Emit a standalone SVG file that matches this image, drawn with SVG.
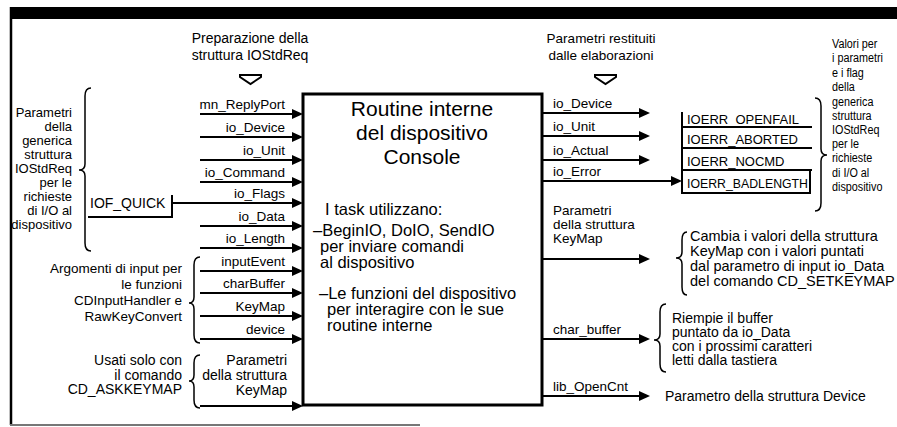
<svg xmlns="http://www.w3.org/2000/svg" width="897" height="427" viewBox="0 0 897 427">
<defs>
<style>
text{font-family:'Liberation Sans',Arial,Helvetica,sans-serif;fill:#000}
.f13{font-size:13px}.f135{font-size:13.5px}.f14{font-size:14px}.f145{font-size:14.5px}.f16{font-size:16.5px}.f21{font-size:21px}
.r{text-anchor:end}.m{text-anchor:middle}
.ln{stroke:#000;stroke-width:2;fill:none}
.ar{stroke:#000;stroke-width:2;fill:none;marker-end:url(#ah)}
.br{stroke:#000;stroke-width:1.5;fill:none}
.chev{stroke:#000;stroke-width:2;fill:#fff;stroke-linejoin:miter}
</style>
<marker id="ah" markerUnits="userSpaceOnUse" markerWidth="11" markerHeight="10" refX="6" refY="5" orient="auto"><path d="M0,0 L11,5 L0,10 Z" fill="#000"/></marker>
</defs>
<rect width="897" height="427" fill="#fff"/>
<g id="frame">
<rect x="10" y="7" width="887" height="12" fill="#000"/>
<line x1="11" y1="7" x2="11" y2="425" stroke="#000" stroke-width="2.5"/>
<line x1="10" y1="425" x2="420" y2="425" stroke="#777" stroke-width="2"/>
</g>
<g id="title-in">
<text class="f14 m" x="250" y="43">Preparazione della</text>
<text class="f14 m" x="250" y="60">struttura IOStdReq</text>
<polygon class="chev" points="240,75 261,75 261,77 250.5,84 240,77"/>
</g>
<g id="title-out">
<text class="f135 m" x="601" y="43">Parametri restituiti</text>
<text class="f135 m" x="601" y="60">dalle elaborazioni</text>
<polygon class="chev" points="595,75 616,75 616,77 605.5,84 595,77"/>
</g>
<g id="core">
<rect x="303" y="94" width="239" height="311" fill="#fff" stroke="#000" stroke-width="3"/>
<text class="f21 m" x="422" y="116">Routine interne</text>
<text class="f21 m" x="422" y="140">del dispositivo</text>
<text class="f21 m" x="422" y="164">Console</text>
<text class="f16" x="325" y="215">I task utilizzano:</text>
<text class="f16" x="313" y="236">–BeginIO, DoIO, SendIO</text>
<text class="f16" x="320" y="252">per inviare comandi</text>
<text class="f16" x="320" y="268">al dispositivo</text>
<text class="f16" x="319" y="299">–Le funzioni del dispositivo</text>
<text class="f16" x="327" y="315">per interagire con le sue</text>
<text class="f16" x="327" y="331">routine interne</text>
</g>
<g id="in-iostdreq-desc">
<path class="br" d="M91,88 Q85,88 85,96 L85,164 Q85,170 79,170 Q85,170 85,176 L85,243 Q85,251 91,251"/>
<text class="f13 r" x="72" y="117">Parametri</text>
<text class="f13 r" x="72" y="131">della</text>
<text class="f13 r" x="72" y="145">generica</text>
<text class="f13 r" x="72" y="159">struttura</text>
<text class="f13 r" x="72" y="173">IOStdReq</text>
<text class="f13 r" x="72" y="187">per le</text>
<text class="f13 r" x="72" y="201">richieste</text>
<text class="f13 r" x="72" y="215">di I/O al</text>
<text class="f13 r" x="72" y="229">dispositivo</text>
</g>
<g id="iof-quick">
<text class="f14" x="90" y="208">IOF_QUICK</text>
<path class="ln" d="M88,217 L172,217 L172,195"/>
</g>
<g id="in-args-desc">
<path class="br" d="M200,257 Q194,257 194,265 L194,297 Q194,303 189,303 Q194,303 194,309 L194,335 Q194,343 200,343"/>
<text class="f135 r" x="182" y="273">Argomenti di input per</text>
<text class="f135 r" x="182" y="289">le funzioni</text>
<text class="f135 r" x="182" y="305">CDInputHandler e</text>
<text class="f135 r" x="182" y="321">RawKeyConvert</text>
</g>
<g id="in-keymap-desc">
<path class="br" d="M200,355 Q194,355 194,363 L194,375 Q194,381 189,381 Q194,381 194,387 L194,400 Q194,408 200,408"/>
<text class="f14 r" x="182" y="365">Usati solo con</text>
<text class="f14 r" x="182" y="380">il comando</text>
<text class="f14 r" x="182" y="394">CD_ASKKEYMAP</text>
</g>
<g id="ioerr">
<path class="ln" d="M682,112 L682,193 L810,193 L810,170"/>
<path class="ln" d="M682,127 L812,127 M682,148 L812,148 M682,170 L812,170"/>
<text class="f13" x="687" y="124">IOERR_OPENFAIL</text>
<text class="f13" x="687" y="144">IOERR_ABORTED</text>
<text class="f13" x="687" y="166">IOERR_NOCMD</text>
<text class="f13" x="687" y="188" textLength="121" lengthAdjust="spacingAndGlyphs">IOERR_BADLENGTH</text>
</g>
<g id="ioerr-desc">
<path class="br" d="M815,98 Q821,98 821,106 L821,149 Q821,155 827,155 Q821,155 821,161 L821,203 Q821,211 815,211"/>
<g transform="translate(832 0) scale(0.8 1)">
<text class="f135" x="0" y="48">Valori per</text>
<text class="f135" x="0" y="62">i parametri</text>
<text class="f135" x="0" y="77">e i flag</text>
<text class="f135" x="0" y="91">della</text>
<text class="f135" x="0" y="106">generica</text>
<text class="f135" x="0" y="120">struttura</text>
<text class="f135" x="0" y="134">IOStdReq</text>
<text class="f135" x="0" y="148">per le</text>
<text class="f135" x="0" y="162">richieste</text>
<text class="f135" x="0" y="177">di I/O al</text>
<text class="f135" x="0" y="191">dispositivo</text>
</g>
</g>
<g id="setkeymap-desc">
<path class="br" d="M687,232 Q682,232 682,240 L682,252 Q682,258 676,258 Q682,258 682,264 L682,287 Q682,295 687,295"/>
<text class="f145" x="690" y="241">Cambia i valori della struttura</text>
<text class="f145" x="690" y="256">KeyMap con i valori puntati</text>
<text class="f145" x="690" y="271">dal parametro di input io_Data</text>
<text class="f145" x="690" y="286">del comando CD_SETKEYMAP</text>
</g>
<g id="readbuf-desc">
<path class="br" d="M666,304 Q660,304 660,312 L660,334 Q660,340 654,340 Q660,340 660,346 L660,364 Q660,372 666,372"/>
<text class="f14" x="672" y="323">Riempie il buffer</text>
<text class="f14" x="672" y="337">puntato da io_Data</text>
<text class="f14" x="672" y="351">con i prossimi caratteri</text>
<text class="f14" x="672" y="365">letti dalla tastiera</text>
</g>
<g id="device-desc">
<text class="f14" x="665" y="401">Parametro della struttura Device</text>
</g>
<g id="connectors">
<line class="ar" x1="200" y1="114" x2="298" y2="114"/>
<line class="ar" x1="200" y1="137" x2="298" y2="137"/>
<line class="ar" x1="200" y1="160" x2="298" y2="160"/>
<line class="ar" x1="200" y1="182" x2="298" y2="182"/>
<line class="ar" x1="172" y1="203" x2="298" y2="203"/>
<line class="ar" x1="200" y1="226" x2="298" y2="226"/>
<line class="ar" x1="200" y1="248" x2="298" y2="248"/>
<line class="ar" x1="200" y1="271" x2="298" y2="271"/>
<line class="ar" x1="200" y1="293" x2="298" y2="293"/>
<line class="ar" x1="200" y1="316" x2="298" y2="316"/>
<line class="ar" x1="200" y1="339" x2="298" y2="339"/>
<line class="ar" x1="200" y1="406" x2="298" y2="406"/>
<text class="f135 r" x="285" y="109">mn_ReplyPort</text>
<text class="f135 r" x="285" y="132">io_Device</text>
<text class="f135 r" x="285" y="155">io_Unit</text>
<text class="f135 r" x="285" y="177">io_Command</text>
<text class="f135 r" x="285" y="198">io_Flags</text>
<text class="f135 r" x="285" y="221">io_Data</text>
<text class="f135 r" x="285" y="243">io_Length</text>
<text class="f135 r" x="285" y="266">inputEvent</text>
<text class="f135 r" x="285" y="288">charBuffer</text>
<text class="f135 r" x="285" y="311">KeyMap</text>
<text class="f135 r" x="285" y="334">device</text>
<text class="f14 r" x="287" y="365">Parametri</text>
<text class="f14 r" x="287" y="380">della struttura</text>
<text class="f14 r" x="287" y="395">KeyMap</text>
<line class="ar" x1="542" y1="113" x2="645" y2="113"/>
<line class="ar" x1="542" y1="136" x2="645" y2="136"/>
<line class="ar" x1="542" y1="160" x2="645" y2="160"/>
<line class="ar" x1="542" y1="181" x2="677" y2="181"/>
<line class="ar" x1="542" y1="259" x2="645" y2="259"/>
<line class="ar" x1="542" y1="339" x2="645" y2="339"/>
<line class="ar" x1="542" y1="396" x2="645" y2="396"/>
<text class="f135" x="553" y="108">io_Device</text>
<text class="f135" x="553" y="131">io_Unit</text>
<text class="f135" x="553" y="155">io_Actual</text>
<text class="f135" x="553" y="176">io_Error</text>
<text class="f135" x="553" y="215">Parametri</text>
<text class="f135" x="553" y="229">della struttura</text>
<text class="f135" x="553" y="243">KeyMap</text>
<text class="f135" x="553" y="334">char_buffer</text>
<text class="f135" x="553" y="391">lib_OpenCnt</text>
</g>
</svg>
